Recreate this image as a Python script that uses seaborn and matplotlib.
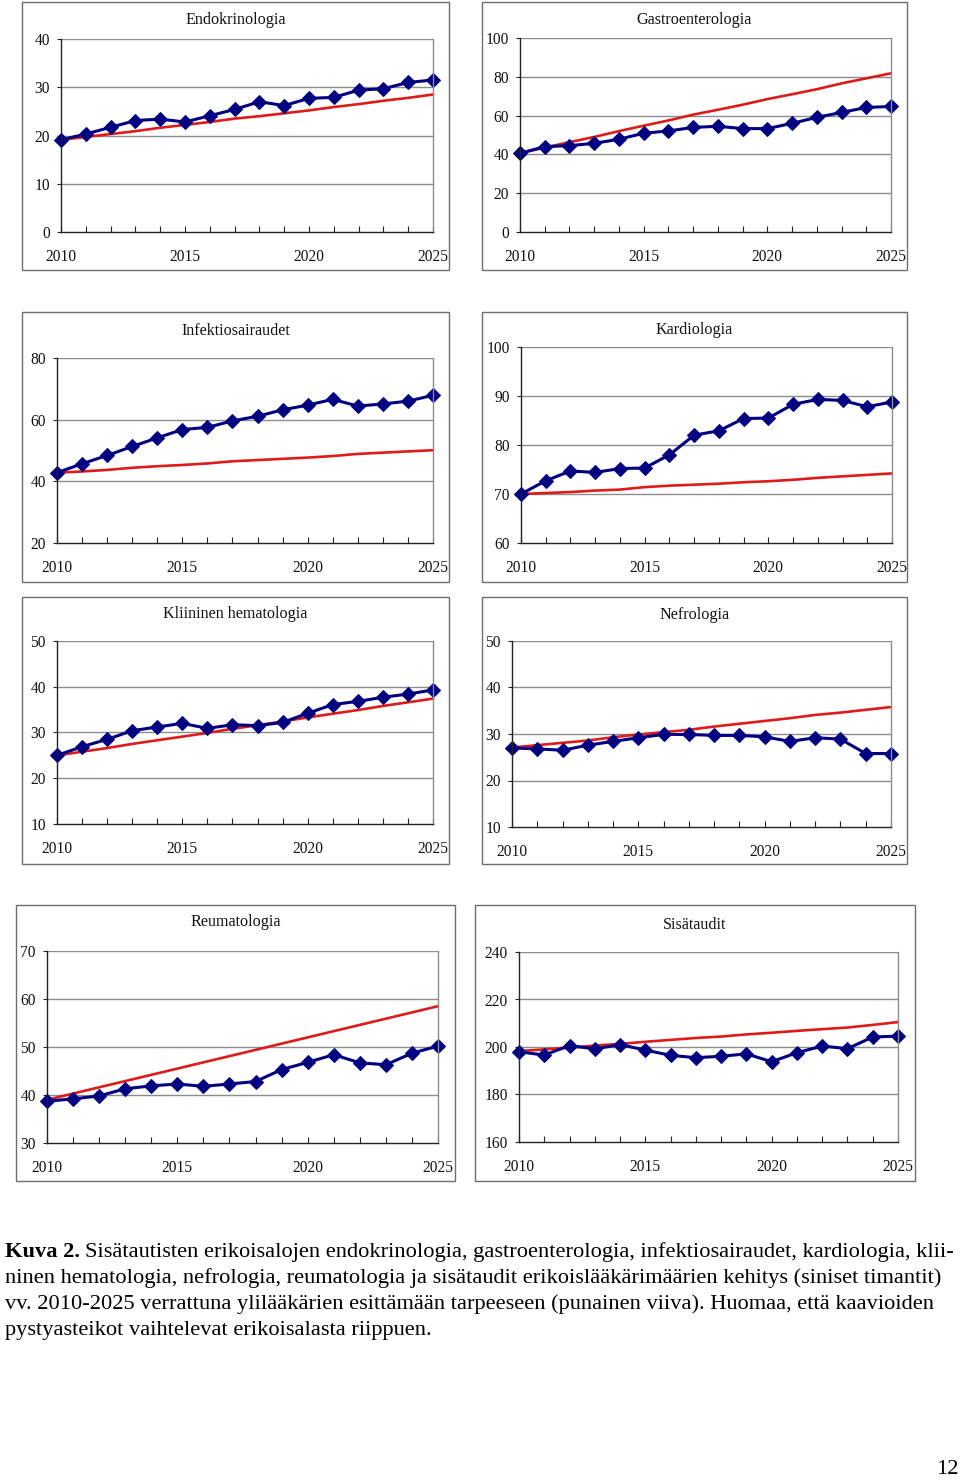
import matplotlib
matplotlib.use("Agg")
import matplotlib.pyplot as plt
import seaborn as sns
import pandas as pd
from matplotlib.patches import Rectangle

years = list(range(2010, 2026))

endo_actual = [19.1, 20.3, 21.7, 23.1, 23.4, 22.8, 24.1, 25.4, 27.0, 26.2, 27.7, 27.9, 29.4, 29.7, 31.0, 31.5]
endo_need = [19.1, 19.7, 20.3, 20.9, 21.6, 22.2, 22.8, 23.5, 24.0, 24.6, 25.2, 25.9, 26.5, 27.2, 27.8, 28.5]

gastro_actual = [40.6, 44.0, 44.5, 45.7, 47.8, 50.9, 52.1, 53.9, 54.5, 53.3, 53.3, 56.0, 59.1, 61.6, 64.2, 64.7]
gastro_need = [40.6, 43.5, 46.3, 49.0, 52.0, 54.8, 57.5, 60.5, 63.0, 65.6, 68.5, 71.0, 73.6, 76.6, 79.2, 81.8]

infek_actual = [42.8, 45.7, 48.4, 51.3, 54.1, 56.8, 57.5, 59.6, 61.1, 63.2, 64.7, 66.6, 64.4, 65.1, 66.0, 67.9]
infek_need = [42.8, 43.2, 43.7, 44.4, 44.9, 45.3, 45.8, 46.5, 46.9, 47.3, 47.7, 48.2, 48.9, 49.3, 49.7, 50.1]

kardio_actual = [70.0, 72.7, 74.7, 74.4, 75.2, 75.3, 78.0, 82.0, 82.9, 85.4, 85.5, 88.3, 89.3, 89.1, 87.8, 88.8]
kardio_need = [70.0, 70.2, 70.4, 70.7, 70.9, 71.4, 71.7, 71.9, 72.1, 72.4, 72.6, 72.9, 73.3, 73.6, 73.9, 74.2]

hema_actual = [25.0, 26.9, 28.5, 30.4, 31.2, 32.0, 30.9, 31.7, 31.5, 32.2, 34.2, 36.1, 36.8, 37.7, 38.4, 39.3]
hema_need = [25.0, 25.8, 26.6, 27.5, 28.3, 29.1, 29.9, 30.8, 31.6, 32.4, 33.3, 34.1, 34.9, 35.8, 36.6, 37.4]

nefro_actual = [27.0, 26.8, 26.5, 27.6, 28.4, 29.2, 29.9, 29.9, 29.7, 29.7, 29.4, 28.4, 29.2, 28.9, 25.8, 25.8]
nefro_need = [27.1, 27.6, 28.1, 28.6, 29.3, 29.9, 30.4, 30.9, 31.6, 32.2, 32.8, 33.4, 34.1, 34.6, 35.2, 35.8]

reuma_actual = [38.7, 39.2, 39.8, 41.3, 41.9, 42.3, 41.8, 42.3, 42.8, 45.3, 46.8, 48.4, 46.7, 46.3, 48.7, 50.2]
reuma_need = [39.0, 40.3, 41.6, 42.9, 44.2, 45.5, 46.8, 48.1, 49.4, 50.7, 52.0, 53.3, 54.6, 55.9, 57.2, 58.5]

sisa_actual = [198.0, 196.6, 200.6, 199.2, 201.0, 198.7, 196.5, 195.5, 196.1, 197.1, 193.8, 197.6, 200.4, 199.3, 204.2, 204.6]
sisa_need = [198.3, 199.0, 199.7, 200.6, 201.3, 202.2, 203.0, 203.8, 204.4, 205.3, 206.0, 206.8, 207.5, 208.2, 209.3, 210.5]

titles = ["Endokrinologia", "Gastroenterologia", "Infektiosairaudet", "Kardiologia",
          "Kliininen hematologia", "Nefrologia", "Reumatologia", "Sisätaudit"]
x_labels = [2010, 2015, 2020, 2025]

sns.set_theme(style="white")
plt.rcParams["font.family"] = ["Liberation Serif", "DejaVu Serif"]

W, H = 960, 1481
fig = plt.figure(figsize=(W / 100, H / 100), dpi=100)


def rect(x0, y0, x1, y1):
    return [x0 / W, 1 - y1 / H, (x1 - x0) / W, (y1 - y0) / H]


panels = [
    (titles[0], endo_actual, endo_need, (0, 40, 10), (22, 2, 449, 270), (61, 39, 433, 232), 20),
    (titles[1], gastro_actual, gastro_need, (0, 100, 20), (482, 2, 907, 270), (520, 38, 891, 232), 20),
    (titles[2], infek_actual, infek_need, (20, 80, 20), (22, 312, 449, 582), (57, 358, 433, 543), 331),
    (titles[3], kardio_actual, kardio_need, (60, 100, 10), (482, 312, 907, 582), (521, 347, 892, 543), 330),
    (titles[4], hema_actual, hema_need, (10, 50, 10), (22, 597, 449, 864), (57, 641, 433, 824), 614),
    (titles[5], nefro_actual, nefro_need, (10, 50, 10), (482, 597, 907, 864), (512, 641, 891, 827), 615),
    (titles[6], reuma_actual, reuma_need, (30, 70, 10), (16, 905, 455, 1181), (47, 951, 438, 1143), 922),
    (titles[7], sisa_actual, sisa_need, (160, 240, 20), (475, 905, 915, 1181), (519, 952, 898, 1142), 925),
]

for title, actual, need, (ymin, ymax, step), box, axbox, ty in panels:
    fig.patches.append(Rectangle((box[0] / W, 1 - box[3] / H), (box[2] - box[0]) / W,
                                 (box[3] - box[1]) / H, transform=fig.transFigure,
                                 fill=False, edgecolor="#6e6e6e", linewidth=1.0))
    fig.text((box[0] + box[2]) / 2 / W, 1 - ty / H, title, ha="center", va="center",
             fontsize=11.6, color="#111111")
    ax = fig.add_axes(rect(*axbox))
    df = pd.DataFrame({"year": years, "actual": actual, "need": need})
    sns.lineplot(data=df, x="year", y="need", ax=ax, color="#dd1b1b", linewidth=1.9)
    sns.lineplot(data=df, x="year", y="actual", ax=ax, color="#000080", linewidth=2.2,
                 marker="D", markersize=7.5, markeredgecolor="#000080")
    for ln in ax.lines:
        ln.set_clip_on(False)
    ax.set_xlim(2010, 2025)
    ax.set_ylim(ymin, ymax)
    yt = list(range(ymin, ymax + 1, step))
    ax.set_yticks(yt)
    ax.set_yticklabels([str(v) for v in yt])
    ax.set_xticks(years)
    ax.set_xticklabels([str(y) if y in x_labels else "" for y in years])
    ax.set_xlabel("")
    ax.set_ylabel("")
    ax.grid(False)
    for v in yt[1:]:
        ax.axhline(v, color="#8c8c8c", linewidth=1.0, zorder=0)
    ax.spines["left"].set_color("#222222")
    ax.spines["bottom"].set_color("#222222")
    ax.spines["right"].set_color("#8c8c8c")
    ax.spines["top"].set_visible(False)
    for s in ax.spines.values():
        s.set_linewidth(1.0)
    ax.tick_params(axis="x", direction="in", length=4, width=0.8, color="#222222",
                   pad=12, labelsize=11.2, labelcolor="#111111", bottom=True)
    ax.tick_params(axis="y", direction="out", length=3, width=0.8, color="#222222",
                   pad=5, labelsize=11.2, labelcolor="#111111", left=True)
    ax.set_facecolor("white")

# caption
fs = 16.1
renderer = fig.canvas.get_renderer()
t = fig.text(5 / W, 1 - 1252 / H, "Kuva 2.", fontsize=fs, fontweight="bold", ha="left",
             va="center", color="black")
bb = t.get_window_extent(renderer=renderer)
fig.text((bb.x1 + 5) / W, 1 - 1252 / H,
         "Sisätautisten erikoisalojen endokrinologia, gastroenterologia, infektiosairaudet, kardiologia, klii-",
         fontsize=fs, ha="left", va="center", color="black")
caption_lines = [
    "ninen hematologia, nefrologia, reumatologia ja sisätaudit erikoislääkärimäärien kehitys (siniset timantit)",
    "vv. 2010-2025 verrattuna ylilääkärien esittämään tarpeeseen (punainen viiva). Huomaa, että kaavioiden",
    "pystyasteikot vaihtelevat erikoisalasta riippuen.",
]
for i, line in enumerate(caption_lines):
    fig.text(5 / W, 1 - (1278 + 26 * i) / H, line, fontsize=fs, ha="left", va="center",
             color="black")

fig.text(948 / W, 1 - 1470 / H, "12", fontsize=fs, ha="center", va="center", color="black")

fig.savefig("out.png", dpi=100, facecolor="white")
